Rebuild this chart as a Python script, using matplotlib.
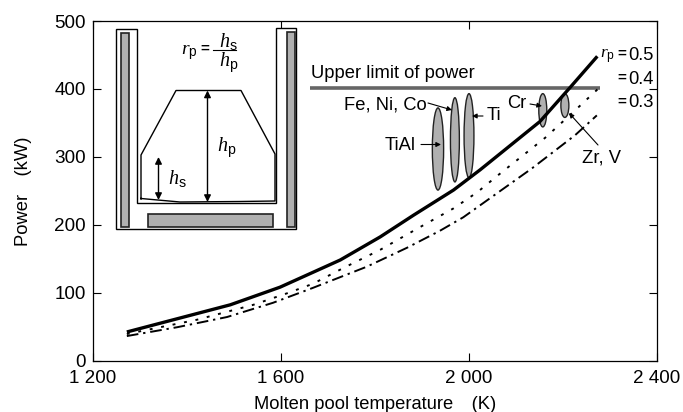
#!/usr/bin/env python3
import matplotlib
matplotlib.use("Agg")
import matplotlib.pyplot as plt
from matplotlib.patches import Ellipse, Rectangle, Polygon

plt.rcParams["font.family"] = ["Liberation Sans", "DejaVu Sans"]
plt.rcParams["mathtext.fontset"] = "custom"
plt.rcParams["mathtext.it"] = "Liberation Serif:italic"
plt.rcParams["mathtext.rm"] = "Liberation Sans"

# curves
temp_05 = [1272, 1371, 1492, 1598, 1726, 1811, 1882, 1967, 2024, 2151, 2215, 2273]
rp_05 = [42, 60, 82, 108, 148, 182, 214, 251, 281, 352, 402, 448]
temp_04 = [1272, 1421, 1541, 1613, 1668, 1732, 1811, 1892, 1967, 2018, 2062, 2162, 2222, 2276]
rp_04 = [39, 60, 82, 99, 113, 136, 163, 195, 224, 248, 273, 328, 366, 401]
temp_03 = [1272, 1379, 1485, 1583, 1668, 1782, 1868, 1938, 1988, 2134, 2226, 2272]
rp_03 = [36, 49, 64, 85, 107, 138, 166, 191, 211, 283, 332, 361]

upper_limit = 402
limit_range = [1662, 2279]

# element ranges: name, temperature, width, low power, high power
elements = ["TiAl", "Fe, Ni, Co", "Ti", "Cr", "Zr, V"]
elem_temp = [1934, 1970, 2000, 2157, 2204]
elem_width = [24, 19, 21, 17, 17]
elem_low = [251, 263, 269, 344, 358]
elem_high = [372, 387, 393, 393, 393]

xticks = [1200, 1600, 2000, 2400]
xtick_labels = ["1 200", "1 600", "2 000", "2 400"]
yticks = [0, 100, 200, 300, 400, 500]
rp_values = ["0.5", "0.4", "0.3"]

fig = plt.figure(figsize=(6.83, 4.12), dpi=100)
ax = fig.add_axes([93 / 683, 1 - 360.5 / 412, 564 / 683, 339.5 / 412])

for t, w, lo, hi in zip(elem_temp, elem_width, elem_low, elem_high):
    ax.add_patch(Ellipse((t, (lo + hi) / 2), w, hi - lo, fc="#b0b0b0", ec="#222222", lw=1, zorder=1))

ax.plot(temp_05, rp_05, color="black", lw=2.4, solid_capstyle="butt", zorder=2)
ax.plot(temp_04, rp_04, color="black", lw=1.4, linestyle=(0, (1.5, 4.5)), zorder=2)
ax.plot(temp_03, rp_03, color="black", lw=1.4, linestyle=(0, (6, 2.5, 1.2, 2.5)), zorder=2)
ax.plot(limit_range, [upper_limit, upper_limit], color="#666666", lw=2.6, solid_capstyle="butt", zorder=1)

ax.set_xlim(1200, 2400)
ax.set_ylim(0, 500)
ax.set_xticks(xticks)
ax.set_xticklabels(xtick_labels)
ax.set_yticks(yticks)
ax.tick_params(direction="in", length=5.5, width=0.8, top=True, right=True, labelsize=13.6)
ax.tick_params(axis="x", pad=7)
ax.tick_params(axis="y", pad=5)
ax.set_xlabel("Molten pool temperature\u2003(K)", fontsize=13.2)
ax.set_ylabel("Power\u2003(kW)", fontsize=13.2)
ax.xaxis.set_label_coords(0.5, -0.105)
ax.yaxis.set_label_coords(-0.109, 0.5)
for s in ax.spines.values():
    s.set_linewidth(0.9)

# overlay in pixels for the schematic and the labels
ov = fig.add_axes([0, 0, 1, 1])
ov.set_xlim(0, 683)
ov.set_ylim(412, 0)
ov.axis("off")

# crucible schematic
ov.add_patch(Polygon([(116, 29), (137, 29), (137, 203), (276, 203), (276, 28), (296, 28),
                      (296, 229), (116, 229)], closed=True, fc="white", ec="black", lw=1, zorder=2))
for r in [(120.5, 33, 8, 194), (287, 32, 8, 195), (148, 214, 125, 12.5)]:
    ov.add_patch(Rectangle(r[:2], r[2], r[3], fc="#b0b0b0", ec="#222222", lw=1.2, zorder=3))
ov.plot([141, 141, 176, 241, 275, 275, 240, 180, 141],
        [199, 155, 90.5, 90.5, 154, 201, 201.5, 202, 198.5], color="black", lw=1, zorder=3)
arrow = dict(arrowstyle="<|-|>", color="black", lw=1, mutation_scale=10, shrinkA=0, shrinkB=0)
ov.annotate("", xy=(207.5, 90.5), xytext=(207.5, 202), arrowprops=arrow, zorder=4)
ov.annotate("", xy=(158.5, 157), xytext=(158.5, 200), arrowprops=arrow, zorder=4)
ov.plot([213, 236], [50, 50], color="black", lw=0.8, zorder=5)

ital = dict(fontsize=14.5, ha="left", va="center", zorder=5)
ov.text(181, 53, r"$r_{\mathrm{p}}$", fontsize=14, ha="left", va="center", zorder=5)
ov.text(205, 49, "=", fontsize=11, fontweight="bold", ha="center", va="center")
ov.text(219, 41, r"$h_{\mathrm{s}}$", **ital)
ov.text(219, 63, r"$h_{\mathrm{p}}$", **ital)
ov.text(217, 148, r"$h_{\mathrm{p}}$", **ital)
ov.text(168, 178, r"$h_{\mathrm{s}}$", **ital)

# labels
lab = dict(fontsize=13.2, ha="left", va="center", zorder=5)
ov.text(311, 73.5, "Upper limit of power", **lab)
ov.text(344, 105, elements[1], **lab)
ov.text(487, 115.5, elements[2], **lab)
ov.text(385, 146, elements[0], **lab)
ov.text(507, 103.5, elements[3], **lab)
ov.text(582, 158, elements[4], **lab)

ov.text(600, 57, r"$r_{\mathrm{p}}$", fontsize=12.5, ha="left", va="center", zorder=5)
for y, s in zip([55, 79, 102.5], rp_values):
    ov.text(621.5, y - 1, "=", fontsize=11, fontweight="bold", ha="center", va="center", zorder=5)
    ov.text(628.5, y, s, **lab)

thin = dict(arrowstyle="-|>", color="black", lw=0.8, mutation_scale=7, shrinkA=0, shrinkB=0)
ov.annotate("", xy=(452, 110), xytext=(428, 103), arrowprops=thin, zorder=5)
ov.annotate("", xy=(472, 116), xytext=(483, 116), arrowprops=thin, zorder=5)
ov.annotate("", xy=(441, 144.5), xytext=(421, 144.5), arrowprops=thin, zorder=5)
ov.annotate("", xy=(542, 106), xytext=(530, 104), arrowprops=thin, zorder=5)
ov.annotate("", xy=(569, 113), xytext=(598, 145), arrowprops=thin, zorder=5)

fig.savefig("out.png", dpi=100)
